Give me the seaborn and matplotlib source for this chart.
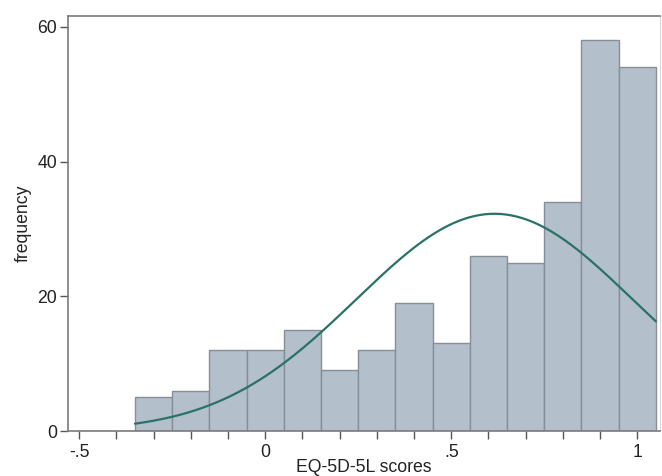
import numpy as np
import pandas as pd
import matplotlib
matplotlib.use("Agg")
import matplotlib.pyplot as plt
import seaborn as sns

# EQ-5D-5L score histogram (bin width 0.1), n = 300
bin_edges = [-0.35, -0.25, -0.15, -0.05, 0.05, 0.15, 0.25, 0.35,
             0.45, 0.55, 0.65, 0.75, 0.85, 0.95, 1.05]
counts = [5, 6, 12, 12, 15, 9, 12, 19, 13, 26, 25, 34, 58, 54]

# fitted normal curve parameters
fit_mean = 0.616
fit_sd = 0.371

x_major = [-0.5, 0, 0.5, 1]
x_major_labels = ["-.5", "0", ".5", "1"]
y_ticks = [0, 20, 40, 60]

sns.set_style("white")
plt.rcParams["font.family"] = ["Liberation Sans", "DejaVu Sans"]

DPI = 100
fig = plt.figure(figsize=(662 / DPI, 476 / DPI), dpi=DPI)
ax = fig.add_axes([0.1027, 0.0945, 0.8943, 0.8715])

edges = np.array(bin_edges)
df = pd.DataFrame({"score": (edges[:-1] + edges[1:]) / 2, "count": counts})
sns.histplot(data=df, x="score", weights="count", bins=list(bin_edges), ax=ax,
             color="#b3bfcb", edgecolor="#878e95", linewidth=1.0, alpha=1)

# normal density scaled to counts
width = edges[1] - edges[0]
n = sum(counts)
xs = np.linspace(edges[0], edges[-1], 300)
ys = n * width / (fit_sd * np.sqrt(2 * np.pi)) * np.exp(-0.5 * ((xs - fit_mean) / fit_sd) ** 2)
sns.lineplot(x=xs, y=ys, ax=ax, color="#2a7268", linewidth=1.6)

ax.set_xlim(-0.53, 1.061)
ax.set_ylim(0, 61.6)
ax.set_xticks(x_major)
ax.set_xticklabels(x_major_labels)
ax.set_xticks(np.round(np.arange(-0.4, 1.0, 0.1), 2), minor=True)
ax.set_yticks(y_ticks)

ax.tick_params(axis="both", which="both", direction="out", length=6,
               width=1, color="#555555", labelsize=12.7, labelcolor="#222222",
               bottom=True, left=True)
ax.tick_params(axis="x", pad=3)
ax.tick_params(axis="y", pad=2)

ax.set_xlabel("EQ-5D-5L scores", fontsize=12.7, color="#222222", labelpad=-1)
ax.set_ylabel("frequency", fontsize=12.7, color="#222222", labelpad=4)

for side in ["left", "bottom", "top"]:
    ax.spines[side].set_color("#7a7a7a")
    ax.spines[side].set_linewidth(1.2)
ax.spines["right"].set_color("#d8d8d8")

fig.savefig("out.png", dpi=DPI)
